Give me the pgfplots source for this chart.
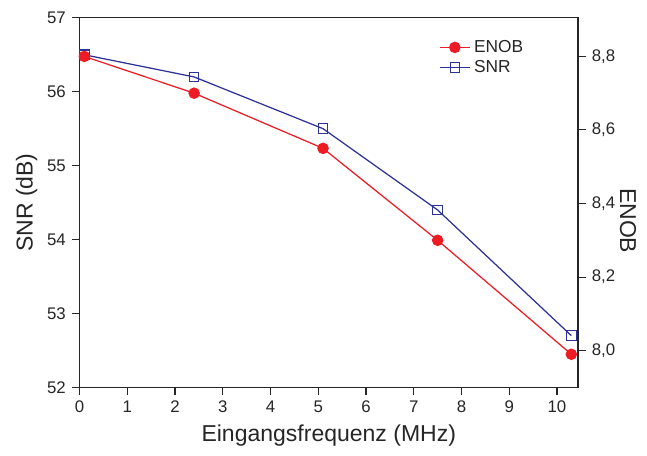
\documentclass[border={0.2cm 0.05cm 0.1cm 0.12cm}]{standalone}
\usepackage{fontspec}
\setmainfont{Liberation Sans}
\usepackage{pgfplots}
\pgfplotsset{compat=1.18}

\definecolor{enobred}{RGB}{237,28,36}
\definecolor{snrblue}{RGB}{45,50,150}

% tick marks are drawn as minor ticks, one overlay axis per tick length
\pgfplotsset{
  common/.style={
    width=9.9cm, height=7.34cm, scale only axis,
    xmin=0, xmax=10.44,
    /pgf/number format/assume math mode=true,
    tick label style={font=\fontsize{9.5}{11}\selectfont, color=black!85},
    label style={font=\fontsize{13}{15}\selectfont, color=black!85},
    every tick/.append style={black!85, line width=0.6pt},
  },
  snr/.style={ymin=52, ymax=57},
  enob/.style={ymin=7.9, ymax=8.905},
  bare/.style={axis line style={draw=none}},
}

\begin{document}
\begin{tikzpicture}
% box, left SNR axis and bottom x axis
\begin{axis}[common, snr,
    xtick pos=bottom, ytick pos=left,
    tick align=outside,
    axis line style={black!85, line width=0.6pt},
    xtick={0,1,...,10}, ytick={52,53,...,57},
    minor xtick={0,1,...,10}, minor ytick={52,53,...,57},
    minor tick length=0.14cm,
    xlabel={Eingangsfrequenz (MHz)},
    ylabel={SNR (dB)},
    xlabel style={yshift=0.0cm},
    ylabel style={yshift=-0.05cm},
]
\addplot[snrblue, line width=0.7pt, mark=square, mark size=2.7pt,
  mark options={fill=white, line width=0.6pt}] coordinates {
  (0.1,56.5) (2.4,56.2) (5.1,55.5) (7.5,54.4) (10.3,52.7)
};
\end{axis}

% half-unit ticks, bottom and left
\begin{axis}[common, snr, bare,
    xtick pos=bottom, ytick pos=left, tick align=outside,
    xtick=\empty, ytick=\empty,
    minor xtick={0.5,1.5,...,9.5}, minor ytick={52.5,53.5,...,56.5},
    minor tick length=0.08cm,
]
\end{axis}

% top ticks, inside
\begin{axis}[common, snr, bare, hide y axis,
    xtick pos=top, tick align=inside,
    xtick=\empty, minor xtick={0,1,...,10},
    minor tick length=0.14cm,
]
\end{axis}
\begin{axis}[common, snr, bare, hide y axis,
    xtick pos=top, tick align=inside,
    xtick=\empty, minor xtick={0.5,1.5,...,9.5},
    minor tick length=0.08cm,
]
\end{axis}

% right ENOB half ticks
\begin{axis}[common, enob, bare, hide x axis,
    ytick pos=right, tick align=outside,
    ytick=\empty, minor ytick={8.1,8.3,8.5,8.7},
    minor tick length=0.08cm,
]
\end{axis}

% right ENOB axis
\begin{axis}[common, enob, bare, hide x axis,
    ytick pos=right, yticklabel pos=right,
    tick align=outside,
    ytick={8.0,8.2,8.4,8.6,8.8}, minor ytick={8.0,8.2,8.4,8.6,8.8},
    minor tick length=0.14cm,
    yticklabel style={/pgf/number format/.cd, fixed, fixed zerofill, precision=1, use comma},
    ylabel={ENOB},
    ylabel style={font=\fontsize{13}{15}\selectfont, color=black!85,
      rotate=180, yshift=-0.15cm, xshift=0.36cm},
    legend style={at={(rel axis cs:0.71,0.96)}, anchor=north west, draw=none,
      fill=none, font=\fontsize{9.8}{11}\selectfont, row sep=-1pt,
      text=black!85},
    legend cell align=left,
]
\addplot[enobred, line width=0.7pt, mark=*, mark size=2.9pt] coordinates {
  (0.1,8.8) (2.4,8.7) (5.1,8.55) (7.5,8.3) (10.3,7.99)
};
\addlegendentry{ENOB}
\addlegendimage{snrblue, line width=0.7pt, mark=square, mark size=2.7pt,
  mark options={fill=white, line width=0.6pt}}
\addlegendentry{SNR}
\end{axis}
\end{tikzpicture}
\end{document}
